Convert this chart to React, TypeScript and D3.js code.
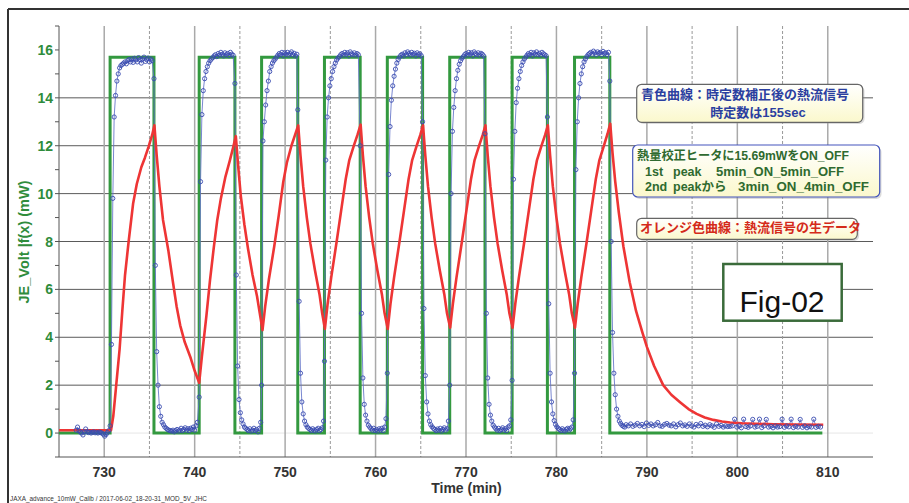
import React from 'react';
import * as d3 from 'd3';

const W = 909;
const H = 503;
const FONT = "'Liberation Sans', Arial, 'Noto Sans CJK JP', sans-serif";

const X_DOMAIN: [number, number] = [725, 815];
const Y_DOMAIN: [number, number] = [-1, 17];
const xMajorTicks = [730, 740, 750, 760, 770, 780, 790, 800, 810];
const xMinorTicks = [735, 745, 755, 765, 775, 785, 795, 805];
const yLabelTicks = [0, 2, 4, 6, 8, 10, 12, 14, 16];
const yGridTicks = [2, 4, 6, 8, 10, 12, 14];
const ySmallTicks = [-1, 0, 1, 2, 3, 4, 5, 6, 7, 8, 9, 10, 11, 12, 13, 14, 15, 16, 17];

// Heater ON/OFF (green)
const GREEN_ON = 15.69;
const GREEN_START = 725;
const GREEN_END = 809.4;
const greenRise = [730.65, 740.5, 747.4, 754.35, 761.3, 768.2, 775.1, 782.0];
const greenFall = [735.5, 744.45, 751.4, 758.3, 765.2, 772.1, 779.0, 785.9];

// Raw heat-flow signal (red)
const redCurve: [number, number][] = [
  [725.0, 0.12], [730.75, 0.12], [731.0, 0.7], [731.3, 1.9], [731.7, 3.5], [732.0, 5.1], [732.3, 6.6],
  [732.7, 8.0], [733.2, 9.6], [733.6, 10.4], [734.1, 11.1], [734.5, 11.5], [734.9, 11.95], [735.3, 12.45], [735.55, 12.85],
  [735.8, 11.6], [736.1, 10.3], [736.5, 8.9], [737.1, 7.6], [737.6, 6.3], [738.0, 5.3], [738.4, 4.5], [738.9, 3.8],
  [739.5, 3.2], [740.0, 2.6], [740.5, 2.1],
  [740.8, 3.2], [741.3, 4.9], [741.7, 6.4], [742.1, 7.7], [742.5, 8.9], [742.9, 9.8], [743.4, 10.7], [743.9, 11.4],
  [744.3, 12.0], [744.55, 12.4],
  [744.8, 11.2], [745.1, 9.9], [745.5, 8.7], [745.9, 7.7], [746.4, 6.6], [746.9, 5.7], [747.2, 5.0], [747.5, 4.3],
  [747.8, 5.3], [748.2, 6.4], [748.8, 7.8], [749.3, 9.1], [749.8, 10.5], [750.2, 11.3], [750.7, 12.0], [751.1, 12.45], [751.45, 12.85],
  [751.7, 11.6], [752.0, 10.3], [752.4, 9.0], [752.8, 7.9], [753.3, 6.8], [753.8, 5.8], [754.1, 5.0], [754.4, 4.35],
  [754.7, 5.4], [755.1, 6.5], [755.7, 8.0], [756.2, 9.3], [756.7, 10.6], [757.1, 11.4], [757.6, 12.0], [758.0, 12.45], [758.35, 12.88],
  [758.6, 11.6], [758.9, 10.3], [759.3, 9.0], [759.7, 7.9], [760.2, 6.8], [760.7, 5.8], [761.0, 5.0], [761.35, 4.35],
  [761.65, 5.4], [762.05, 6.5], [762.65, 8.0], [763.15, 9.3], [763.65, 10.6], [764.05, 11.4], [764.55, 12.0], [764.95, 12.45], [765.25, 12.86],
  [765.5, 11.6], [765.8, 10.3], [766.2, 9.0], [766.6, 7.9], [767.1, 6.8], [767.6, 5.8], [767.9, 5.0], [768.25, 4.4],
  [768.55, 5.4], [768.95, 6.5], [769.55, 8.0], [770.05, 9.3], [770.55, 10.6], [770.95, 11.4], [771.45, 12.0], [771.85, 12.45], [772.15, 12.85],
  [772.4, 11.6], [772.7, 10.3], [773.1, 9.0], [773.5, 7.9], [774.0, 6.8], [774.5, 5.8], [774.8, 5.0], [775.15, 4.4],
  [775.45, 5.4], [775.85, 6.5], [776.45, 8.0], [776.95, 9.3], [777.45, 10.6], [777.85, 11.4], [778.35, 12.0], [778.75, 12.45], [779.05, 12.85],
  [779.3, 11.6], [779.6, 10.3], [780.0, 9.0], [780.4, 7.9], [780.9, 6.8], [781.4, 5.8], [781.7, 5.0], [782.05, 4.4],
  [782.35, 5.4], [782.75, 6.5], [783.35, 8.0], [783.85, 9.3], [784.35, 10.6], [784.75, 11.4], [785.25, 12.0], [785.65, 12.5], [785.95, 12.92],
  [786.2, 11.7], [786.5, 10.5], [786.9, 9.2], [787.4, 7.8], [788.1, 6.3], [788.8, 5.1], [789.5, 4.2], [790.0, 3.6],
  [790.8, 2.8], [791.8, 2.0], [792.7, 1.6], [793.7, 1.28], [794.6, 1.0], [795.5, 0.8], [796.4, 0.65], [797.35, 0.55],
  [798.3, 0.48], [799.2, 0.44], [800.5, 0.41], [802.0, 0.39], [804.0, 0.37], [806.5, 0.36], [809.5, 0.35],
];

// Time-constant corrected signal (blue): [start time, sample step, values]
const bluePhases: [number, number, number[]][] = [
  [726.9, 0.15, [0.12, 0.25, 0.1, 0.04, 0.0, -0.08, 0.05, 0.17, 0.06, 0.02, 0.04, 0.0, 0.03, 0.05, 0.01, 0.03, 0.0, 0.04, 0.02, 0.0, -0.05, -0.13, -0.06, 0.02, 0.1]],
  [730.65, 0.15, [0.3, 3.7, 9.8, 13.2, 14.1, 14.7, 15.0, 15.25, 15.35, 15.4, 15.45, 15.5, 15.42, 15.55, 15.6, 15.5, 15.62, 15.48, 15.65, 15.58, 15.5, 15.68, 15.6, 15.45, 15.62, 15.7, 15.52, 15.6, 15.66, 15.5, 15.62, 15.55]],
  [735.5, 0.15, [14.8, 7.0, 3.4, 2.0, 1.1, 0.7, 0.45, 0.35, 0.25, 0.2, 0.15, 0.12, 0.1, 0.08, 0.12, 0.05, 0.1, 0.15, 0.08, 0.12, 0.2, 0.1, 0.15, 0.22, 0.12, 0.18, 0.1, 0.2, 0.15, 0.25, 0.12, 0.3, 0.45]],
  [740.5, 0.15, [1.5, 10.5, 13.3, 14.3, 14.8, 15.1, 15.3, 15.45, 15.55, 15.62, 15.68, 15.75, 15.8, 15.72, 15.85, 15.78, 15.9, 15.82, 15.75, 15.88, 15.8, 15.85, 15.76, 15.9, 15.82, 15.78]],
  [744.45, 0.15, [14.6, 6.6, 2.8, 1.4, 0.85, 0.55, 0.38, 0.25, 0.2, 0.15, 0.1, 0.18, 0.08, 0.12, 0.2, 0.1, 0.15, 0.05, 0.2, 0.45]],
  [747.4, 0.15, [2.0, 12.2, 13.0, 13.7, 14.3, 14.7, 15.1, 15.3, 15.45, 15.55, 15.62, 15.7, 15.78, 15.85, 15.8, 15.9, 15.75, 15.88, 15.82, 15.9, 15.78, 15.85, 15.92, 15.8, 15.86, 15.75, 15.82]],
  [751.4, 0.15, [13.5, 5.5, 2.5, 1.3, 0.8, 0.5, 0.35, 0.25, 0.2, 0.15, 0.1, 0.18, 0.12, 0.08, 0.15, 0.2, 0.1, 0.15, 0.22, 0.5]],
  [754.35, 0.15, [3.0, 11.4, 13.2, 14.0, 14.5, 14.8, 15.1, 15.3, 15.45, 15.58, 15.66, 15.72, 15.8, 15.85, 15.78, 15.9, 15.82, 15.88, 15.75, 15.92, 15.84, 15.8, 15.88, 15.78, 15.85, 15.8]],
  [758.3, 0.15, [12.0, 5.0, 2.3, 1.2, 0.75, 0.5, 0.33, 0.25, 0.18, 0.12, 0.2, 0.1, 0.15, 0.08, 0.18, 0.12, 0.2, 0.1, 0.25, 0.6]],
  [761.3, 0.15, [2.5, 10.8, 12.8, 13.9, 14.5, 14.9, 15.2, 15.45, 15.6, 15.7, 15.78, 15.82, 15.75, 15.88, 15.8, 15.92, 15.85, 15.78, 15.9, 15.82, 15.86, 15.75, 15.88, 15.8, 15.84, 15.76]],
  [765.2, 0.15, [13.0, 5.2, 2.4, 1.3, 0.8, 0.5, 0.35, 0.26, 0.2, 0.15, 0.1, 0.17, 0.12, 0.2, 0.08, 0.15, 0.22, 0.12, 0.18, 0.5]],
  [768.2, 0.15, [2.0, 10.0, 12.6, 13.6, 14.3, 14.8, 15.15, 15.4, 15.55, 15.65, 15.72, 15.8, 15.85, 15.78, 15.9, 15.82, 15.88, 15.75, 15.92, 15.85, 15.8, 15.88, 15.78, 15.86, 15.82, 15.75]],
  [772.1, 0.15, [12.5, 5.0, 2.3, 1.2, 0.75, 0.5, 0.33, 0.25, 0.18, 0.12, 0.2, 0.1, 0.15, 0.22, 0.12, 0.18, 0.1, 0.25, 0.3, 0.55]],
  [775.1, 0.15, [2.2, 10.6, 12.6, 13.8, 14.4, 14.8, 15.1, 15.35, 15.5, 15.62, 15.7, 15.78, 15.85, 15.8, 15.9, 15.75, 15.88, 15.82, 15.92, 15.8, 15.86, 15.78, 15.9, 15.84, 15.8, 15.76]],
  [779.0, 0.15, [13.2, 5.4, 2.5, 1.3, 0.8, 0.52, 0.36, 0.26, 0.2, 0.15, 0.1, 0.18, 0.12, 0.08, 0.16, 0.2, 0.12, 0.18, 0.25, 0.55]],
  [782.0, 0.15, [2.5, 11.0, 13.0, 14.0, 14.6, 15.0, 15.3, 15.5, 15.62, 15.72, 15.8, 15.85, 15.9, 15.82, 15.95, 15.88, 15.8, 15.92, 15.86, 15.9, 15.8, 15.94, 15.85, 15.88, 15.8, 15.9]],
  [785.9, 0.15, [14.7, 8.0, 4.2, 2.5, 1.6, 1.0, 0.7, 0.5, 0.4, 0.32, 0.28, 0.25]],
  [787.7, 0.25, [0.35, 0.3, 0.38, 0.28, 0.33, 0.4, 0.3, 0.36, 0.27, 0.42, 0.32, 0.38, 0.3, 0.35, 0.44, 0.3, 0.28, 0.36, 0.4, 0.33,
    0.3, 0.38, 0.26, 0.35, 0.42, 0.3, 0.34, 0.28, 0.38, 0.3, 0.25, 0.36, 0.3, 0.4, 0.28, 0.33, 0.26, 0.35, 0.3, 0.24,
    0.38, 0.28, 0.32, 0.25, 0.3, 0.27,
    0.28, 0.3, 0.58, 0.25, 0.3, 0.22, 0.58, 0.27, 0.24, 0.3, 0.57, 0.25, 0.28, 0.58, 0.23, 0.3, 0.57, 0.25, 0.28, 0.22,
    0.3, 0.25, 0.27, 0.58, 0.24, 0.3, 0.26, 0.58, 0.23, 0.28, 0.25, 0.57, 0.24, 0.3, 0.22, 0.27, 0.25, 0.58, 0.24, 0.28, 0.25]],
];

const yAxisTitle = 'JE_Volt |f(x) (mW)';
const xAxisTitle = 'Time (min)';
const footnote = 'JAXA_advance_10mW_Calib / 2017-06-02_18-20-31_MOD_5V_JHC';
const box1Lines = ['青色曲線：時定数補正後の熱流信号', '時定数は155sec'];
const box2Line1 = '熱量校正ヒータに15.69mWをON_OFF';
const box2Line2 = ['1st', 'peak', '5min_ON_5min_OFF'];
const box2Line3 = ['2nd', 'peakから', '3min_ON_4min_OFF'];
const box3Line = 'オレンジ色曲線：熱流信号の生データ';
const figLabel = 'Fig-02';

export default function App() {
  const x = d3.scaleLinear().domain(X_DOMAIN).range([59, 873]);
  const y = d3.scaleLinear().domain(Y_DOMAIN).range([457, 26]);
  const line = d3.line<[number, number]>().x((d) => x(d[0])).y((d) => y(d[1]));

  const greenPts: [number, number][] = [[GREEN_START, 0]];
  greenRise.forEach((r, i) => {
    greenPts.push([r, 0], [r, GREEN_ON], [greenFall[i], GREEN_ON], [greenFall[i], 0]);
  });
  greenPts.push([GREEN_END, 0]);

  const bluePts: [number, number][] = bluePhases.flatMap(([t0, dt, vals]) =>
    vals.map((v, i) => [t0 + i * dt, v] as [number, number])
  );

  const x0 = x.range()[0];
  const x1 = x.range()[1];
  const yTop = y.range()[1];
  const yBot = y.range()[0];

  return (
    <svg width={W} height={H} style={{ position: 'absolute', left: 0, top: 0, background: '#fff' }} fontFamily={FONT}>
      <defs>
        <linearGradient id="boxfill" x1="0" y1="0" x2="0" y2="1">
          <stop offset="0" stopColor="#ffffff" />
          <stop offset="1" stopColor="#fbf8cc" />
        </linearGradient>
      </defs>
      <rect x={0} y={0} width={W} height={H} fill="#fff" />
      {/* outer frame */}
      <line x1={8} y1={9} x2={W} y2={9} stroke="#333" strokeWidth={2} />
      <line x1={8} y1={9} x2={8} y2={H} stroke="#333" strokeWidth={2} />

      {/* grid */}
      <line x1={x0} x2={x1} y1={y(0)} y2={y(0)} stroke="#e6e6e6" strokeWidth={1} />
      {yGridTicks.map((t) => (
        <line key={'hg' + t} x1={x0} x2={x1} y1={y(t)} y2={y(t)} stroke="#5a5a5a" strokeWidth={1} />
      ))}
      {xMajorTicks.map((t) => (
        <line key={'vg' + t} x1={x(t)} x2={x(t)} y1={yTop} y2={yBot} stroke="#a9a9a9" strokeWidth={1.5} />
      ))}
      {xMinorTicks.map((t) => (
        <line key={'vd' + t} x1={x(t)} x2={x(t)} y1={yTop} y2={yBot} stroke="#999" strokeWidth={1} strokeDasharray="3,2" />
      ))}

      {/* axes */}
      <line x1={x0} x2={x0} y1={yTop} y2={yBot} stroke="#555" strokeWidth={1} />
      <line x1={x0} x2={x1} y1={yBot} y2={yBot} stroke="#555" strokeWidth={1} />
      {ySmallTicks.map((t) => (
        <line key={'yt' + t} x1={x0 - 4} x2={x0} y1={y(t)} y2={y(t)} stroke="#555" strokeWidth={1} />
      ))}
      {yLabelTicks.map((t) => (
        <text key={'yl' + t} x={x0 - 6} y={y(t)} dy="0.36em" textAnchor="end" fontSize={14} fontWeight="bold" fill="#2f8c3c">
          {t}
        </text>
      ))}
      {xMajorTicks.map((t) => (
        <text key={'xl' + t} x={x(t)} y={476.5} textAnchor="middle" fontSize={14} fontWeight="bold" fill="#333">
          {t}
        </text>
      ))}
      <text x={466.5} y={493} textAnchor="middle" fontSize={14} fontWeight="bold" fill="#333">{xAxisTitle}</text>
      <text transform="translate(29,242) rotate(-90)" textAnchor="middle" fontSize={14.5} fontWeight="bold" fill="#2f8c3c">
        {yAxisTitle}
      </text>
      <text x={10} y={501} fontSize={7} fill="#333" textLength={197} lengthAdjust="spacingAndGlyphs">{footnote}</text>

      {/* series */}
      <path d={line(greenPts) || ''} fill="none" stroke="#33993f" strokeWidth={3} strokeLinejoin="miter" />
      <path d={line(bluePts) || ''} fill="none" stroke="#6272c8" strokeWidth={1} opacity={0.85} />
      <path d={line(redCurve) || ''} fill="none" stroke="#ee3535" strokeWidth={2.6} strokeLinejoin="round" />
      {bluePts.map((d, i) => (
        <circle key={'bp' + i} cx={x(d[0])} cy={y(d[1])} r={2.1} fill="none" stroke="#3a4cb0" strokeWidth={0.9} />
      ))}

      {/* annotation box 1 */}
      <rect x={638.5} y={86} width={226} height={38} rx={5} fill="#999" opacity={0.35} />
      <rect x={636.7} y={84.3} width={226} height={38} rx={5} fill="url(#boxfill)" stroke="#666" strokeWidth={1.2} />
      <text x={641} y={99} fontSize={13} fontWeight="bold" fill="#2b3fa0">{box1Lines[0]}</text>
      <text x={758} y={117} textAnchor="middle" fontSize={13} fontWeight="bold" fill="#2b3fa0">{box1Lines[1]}</text>

      {/* annotation box 2 */}
      <rect x={634.5} y={147} width={247} height={52} rx={5} fill="#999" opacity={0.35} />
      <rect x={632.7} y={145} width={247} height={52} rx={5} fill="url(#boxfill)" stroke="#4455bb" strokeWidth={1.2} />
      <text x={637} y={159.5} fontSize={12.5} fontWeight="bold" fill="#2f6a2f" textLength={212} lengthAdjust="spacingAndGlyphs">{box2Line1}</text>
      <text x={645} y={175.5} fontSize={12.5} fontWeight="bold" fill="#2f6a2f">{box2Line2[0]}</text>
      <text x={673} y={175.5} fontSize={12.5} fontWeight="bold" fill="#2f6a2f">{box2Line2[1]}</text>
      <text x={716} y={175.5} fontSize={12.5} fontWeight="bold" fill="#2f6a2f" textLength={128} lengthAdjust="spacingAndGlyphs">{box2Line2[2]}</text>
      <text x={645} y={191} fontSize={12.5} fontWeight="bold" fill="#2f6a2f">{box2Line3[0]}</text>
      <text x={673} y={191} fontSize={12.5} fontWeight="bold" fill="#2f6a2f">{box2Line3[1]}</text>
      <text x={738} y={191} fontSize={12.5} fontWeight="bold" fill="#2f6a2f" textLength={131} lengthAdjust="spacingAndGlyphs">{box2Line3[2]}</text>

      {/* annotation box 3 */}
      <rect x={638.5} y={220} width={220.6} height={21} rx={5} fill="#999" opacity={0.35} />
      <rect x={636.7} y={218.3} width={220.6} height={21} rx={5} fill="url(#boxfill)" stroke="#666" strokeWidth={1.2} />
      <text x={640} y={232} fontSize={13} fontWeight="bold" fill="#d42a1a">{box3Line}</text>

      {/* Fig label */}
      <rect x={723.3} y={264} width={118.4} height={56.7} fill="#fff" stroke="#3a6b3a" strokeWidth={2.5} />
      <text x={782} y={311.5} textAnchor="middle" fontSize={30} fill="#111">{figLabel}</text>
    </svg>
  );
}
